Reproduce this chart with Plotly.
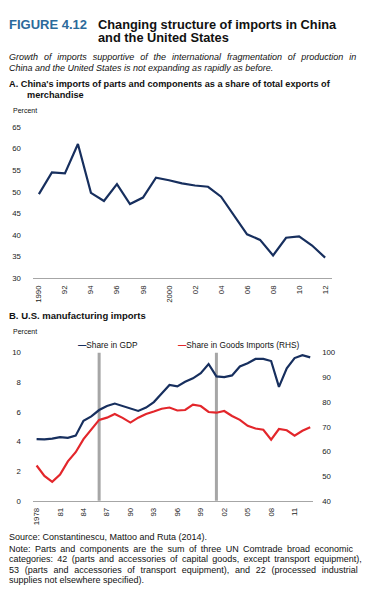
import plotly.graph_objects as go

# ---------------- Data ----------------
years_a = list(range(1990, 2013))
china_parts_share = [49.5, 54.5, 54.3, 61.1, 49.8, 47.9, 51.8, 47.2, 48.7, 53.3, 52.7,
                     52.0, 51.5, 51.2, 48.9, 44.5, 40.2, 38.9, 35.3, 39.4, 39.7, 37.6, 34.8]
ticks_a = list(range(1990, 2013, 2))
ticktext_a = ["1990", "92", "94", "96", "98", "2000", "02", "04", "06", "08", "10", "12"]

years_b = list(range(1978, 2014))
share_gdp = [4.17, 4.15, 4.2, 4.3, 4.25, 4.4, 5.4, 5.7, 6.13, 6.4,
             6.57, 6.4, 6.22, 6.07, 6.3, 6.67, 7.24, 7.82, 7.73, 8.04,
             8.27, 8.62, 9.24, 8.4, 8.36, 8.47, 9.07, 9.29, 9.58, 9.58,
             9.44, 7.69, 8.95, 9.64, 9.84, 9.69]
share_goods = [54.3, 50.1, 47.7, 50.6, 56.0, 59.7, 65.0, 68.8, 72.8, 73.7,
               75.2, 73.6, 71.7, 73.7, 75.2, 76.2, 77.3, 77.8, 76.6, 76.8,
               79.0, 78.4, 76.0, 75.7, 76.4, 74.4, 72.8, 70.4, 69.3, 68.8,
               64.8, 69.1, 68.6, 66.4, 68.4, 69.8]
ticks_b = list(range(1978, 2012, 3))
ticktext_b = ["1978", "81", "84", "87", "90", "93", "96", "99", "02", "05", "08", "11"]
break_years = [1986, 2001]

# ---------------- Styling ----------------
W, H = 387, 606
FONT = "Arial, Liberation Sans, sans-serif"
NAVY = "#172f5e"
RED = "#e3262b"
TICK_COLOR = "#222222"


def px(x):
    return x / W


def py(y):
    return 1 - y / H


fig = go.Figure()

fig.add_trace(go.Scatter(x=years_a, y=china_parts_share, mode="lines",
                         line=dict(color=NAVY, width=2.2), xaxis="x", yaxis="y",
                         name="China parts and components", showlegend=False))
fig.add_trace(go.Scatter(x=years_b, y=share_gdp, mode="lines",
                         line=dict(color=NAVY, width=2.2), xaxis="x2", yaxis="y2",
                         name="Share in GDP", showlegend=False))
fig.add_trace(go.Scatter(x=years_b, y=share_goods, mode="lines",
                         line=dict(color=RED, width=2.2), xaxis="x2", yaxis="y3",
                         name="Share in Goods Imports (RHS)", showlegend=False))

tickfont = dict(family=FONT, size=7.8, color=TICK_COLOR)

fig.update_layout(
    width=W, height=H,
    margin=dict(l=0, r=0, t=0, b=0),
    paper_bgcolor="white", plot_bgcolor="white",
    font=dict(family=FONT, color="#111111"),
    xaxis=dict(domain=[px(32), px(332)], range=[1989.54, 2012.54], anchor="y",
               tickvals=ticks_a, ticktext=ticktext_a, tickangle=-90,
               showgrid=False, zeroline=False, showline=True, linecolor="#a6a6a6",
               linewidth=1, ticks="", tickfont=tickfont, ticklabelstandoff=3),
    yaxis=dict(domain=[py(278.5), py(125)], range=[30, 65], anchor="x",
               tickvals=list(range(30, 66, 5)), showgrid=False, zeroline=False,
               showline=False, ticks="", tickfont=tickfont, ticklabelstandoff=11),
    xaxis2=dict(domain=[px(32), px(313)], range=[1977.53, 2013.38], anchor="y2",
                tickvals=ticks_b, ticktext=ticktext_b, tickangle=-90,
                showgrid=False, zeroline=False, showline=True, linecolor="#a6a6a6",
                linewidth=1, ticks="", tickfont=tickfont, ticklabelstandoff=3),
    yaxis2=dict(domain=[py(504.3), py(354)], range=[0, 10], anchor="x2",
                tickvals=list(range(0, 11, 2)), showgrid=False, zeroline=False,
                showline=False, ticks="", tickfont=tickfont, ticklabelstandoff=11),
    yaxis3=dict(range=[40, 100], overlaying="y2", side="right", anchor="x2",
                tickvals=list(range(40, 101, 10)), showgrid=False, zeroline=False,
                showline=False, ticks="", tickfont=tickfont, ticklabelstandoff=8),
)

# vertical break lines
for yr in break_years:
    fig.add_shape(type="line", xref="x2", yref="y2 domain", x0=yr, x1=yr, y0=0, y1=1,
                  line=dict(color="#a6a6a6", width=3), layer="below")


def text(x, y, s, size, color="#111111", ws=None):
    if ws is not None:
        s = "<span style='word-spacing:%.2fpx'>%s</span>" % (ws, s)
    fig.add_annotation(xref="paper", yref="paper", x=px(x), y=py(y), text=s,
                       showarrow=False, xanchor="left", yanchor="middle",
                       font=dict(family=FONT, size=size, color=color),
                       align="left", borderpad=0)


# titles
text(7, 21, "<b>FIGURE 4.12</b>", 13, color="#2b6a9b")
text(96, 21, "<b>Changing structure of imports in China</b>", 12.8)
text(96, 34, "<b>and the United States</b>", 12.8)
text(7, 54, "<i>Growth of imports supportive of the international fragmentation of production in</i>", 9, ws=3.4)
text(7, 64.5, "<i>China and the United States is not expanding as rapidly as before.</i>", 9)
text(7, 81.5, "<b>A. China's imports of parts and components as a share of total exports of</b>", 9.2)
text(25, 92.5, "<b>merchandise</b>", 9.2)
text(11, 108.5, "Percent", 7)
text(7, 316, "<b>B. U.S. manufacturing imports</b>", 9.5)
text(11, 332.5, "Percent", 7)

# legend for panel B
text(76, 346, "<span style='color:%s'><b>—</b></span>Share in GDP" % NAVY, 8.3)
text(176, 346, "<span style='color:%s'><b>—</b></span>Share in Goods Imports (RHS)" % RED, 8.3)

# source and note
text(7, 541, "Source: Constantinescu, Mattoo and Ruta (2014).", 9)
text(7, 553.5, "Note: Parts and components are the sum of three UN Comtrade broad economic", 9, ws=1.9)
text(7, 563.8, "categories: 42 (parts and accessories of capital goods, except transport equipment),", 9, ws=1.8)
text(7, 574.2, "53 (parts and accessories of transport equipment), and 22 (processed industrial", 9, ws=3.2)
text(7, 584.5, "supplies not elsewhere specified).", 9)

# remove the browser's default page margin so the figure sits at the window origin
fig.write_html("out.html", config={"displayModeBar": False},
               post_script="document.body.style.margin='0';")
